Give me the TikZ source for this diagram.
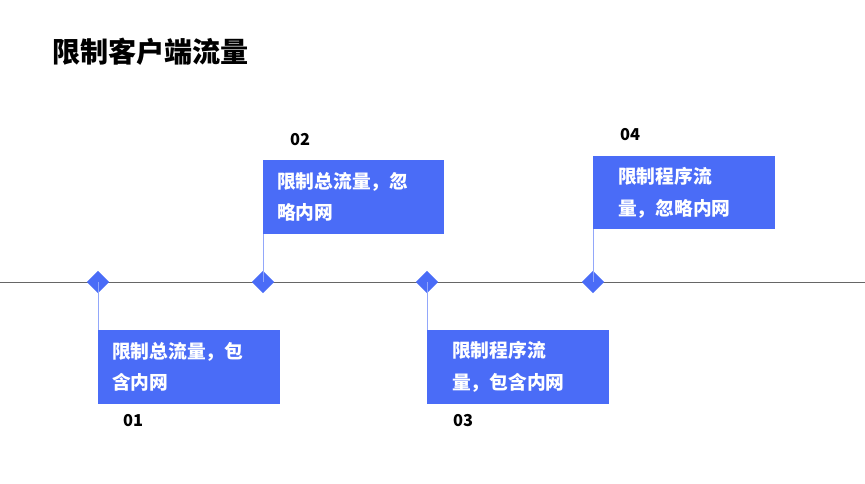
\documentclass[tikz,border=0pt]{standalone}
\usepackage{fontspec}
\setmainfont{Noto Sans CJK SC}
\usetikzlibrary{positioning,shapes.geometric}
\definecolor{tlblue}{HTML}{4A6CF7}
\begin{document}
\begin{tikzpicture}[x=0.03cm,y=-0.03cm,
    step mark/.style={diamond,fill=tlblue,inner sep=0pt,minimum size=0.68cm},
    box/.style={fill=tlblue,text=white,font=\bfseries\fontsize{16}{27}\selectfont,anchor=north west,inner sep=0pt,minimum height=2.2cm,text width=#1,align=left},
    num/.style={font=\bfseries\fontsize{14}{16}\selectfont},
    stem/.style={draw=tlblue!60,very thin}]
  \useasboundingbox (0,0) rectangle (865,484);
  \node[anchor=west,font=\bfseries\fontsize{24}{28}\selectfont] (title) at (48,52) {限制客户端流量};
  \coordinate (l0) at (0,282);
  \coordinate (l1) at (865,282);
  \draw[gray!80!black] (l0) -- (l1);
  % boxes
  \node[box=5.46cm] (b1) at (98,330) {\hspace*{0.42cm}限制总流量，包\\\hspace*{0.42cm}含内网};
  \node[box=5.43cm] (b2) at (263,160) {\hspace*{0.42cm}限制总流量，忽\\\hspace*{0.42cm}略内网};
  \node[box=5.46cm] (b3) at (427,330) {\hspace*{0.75cm}限制程序流\\\hspace*{0.75cm}量，包含内网};
  \node[box=5.46cm,minimum height=2.19cm] (b4) at (593,156) {\hspace*{0.75cm}限制程序流\\\hspace*{0.75cm}量，忽略内网};
  % markers
  \node[step mark] (d1) at (98,282) {};
  \node[step mark] (d2) at (263,282) {};
  \node[step mark] (d3) at (427,282) {};
  \node[step mark] (d4) at (593,282) {};
  \draw[stem] (d1.center) -- (b1.north west);
  \draw[stem] (d2.center) -- (b2.south west);
  \draw[stem] (d3.center) -- (b3.north west);
  \draw[stem] (d4.center) -- (b4.south west);
  \node[num] (n1) at (133,421) {01};
  \node[num] (n2) at (300,140) {02};
  \node[num] (n3) at (463,421) {03};
  \node[num] (n4) at (630,135) {04};
\end{tikzpicture}
\end{document}
